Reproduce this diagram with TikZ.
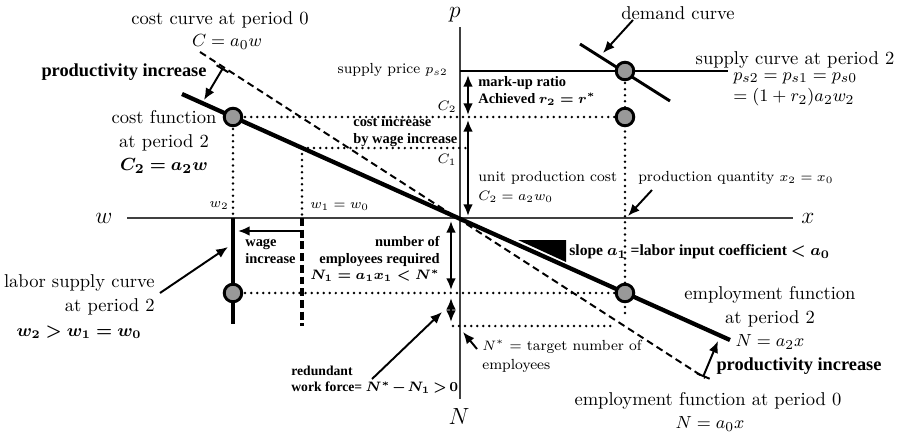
\documentclass[tikz,border=0pt]{standalone}
\usepackage{amsmath}
\usepackage{bm}
\usepackage{fontspec}
\newfontfamily\boldserif{Liberation Serif}
\usepackage{tikz}
\usetikzlibrary{arrows.meta,positioning}

\begin{document}
\begin{tikzpicture}[
  x=0.018cm, y=-0.018cm,
  >={Latex[length=6pt,width=5pt]},
  every node/.style={inner sep=1pt},
  big/.style={font=\fontsize{9.5}{12}\selectfont},
  sm/.style={font=\fontsize{7.5}{9.8}\selectfont},
  bbig/.style={font=\boldserif\bfseries\fontsize{9.4}{11}\selectfont},
  bmid/.style={font=\boldserif\bfseries\fontsize{8}{8.8}\selectfont},
  bsm/.style={font=\boldserif\bfseries\fontsize{7.4}{8.6}\selectfont},
  axlbl/.style={font=\fontsize{12}{14}\selectfont},
  axis/.style={line width=0.75pt, black!75},
  costline/.style={line width=2.2pt},
  oldline/.style={line width=1pt, dash pattern=on 3.6pt off 2.2pt},
  dotline/.style={line width=1.4pt, line cap=round, dash pattern=on 0pt off 3.1pt},
  arr/.style={->, line width=1pt},
  dbl/.style={<->, line width=1pt},
  eqpt/.style={circle, draw, line width=1.5pt, fill=black!40, minimum size=9pt, inner sep=0pt}
]
\useasboundingbox (0,0) rectangle (899,434);

% axes
\coordinate (wend) at (127,218);
\coordinate (xend) at (793,218);
\coordinate (ptop) at (460,27);
\coordinate (Nbot) at (460,399);
\draw[axis] (wend) -- (xend);
\draw[axis] (ptop) -- (Nbot);
\node[axlbl] (wlbl) at (104,218) {$w$};
\node[axlbl] (xlbl) at (808,218) {$x$};
\node[axlbl] (plbl) at (455,15) {$p$};
\node[axlbl] (Nlbl) at (459,416) {$N$};

% centres of the equilibrium points
\coordinate (psup) at (625,71);
\coordinate (pc2r) at (625,117);
\coordinate (pc2l) at (233,117);
\coordinate (pemp) at (625,293);
\coordinate (plab) at (233,293);

% guide points
\coordinate (w2pt) at (233,218);
\coordinate (w1pt) at (302,148);
\coordinate (w1ax) at (302,218);
\coordinate (C1ax) at (466,148);
\coordinate (empdn) at (625,318);
\coordinate (nsl) at (453,326);
\coordinate (nsr) at (615,326);

% dotted guides
\draw[dotline] (pc2l) -- (pc2r);
\draw[dotline] (w1pt) -- (C1ax);
\draw[dotline] (pc2l) -- (w2pt);
\draw[dotline] (w1pt) -- (w1ax);
\draw[dotline] (psup) -- (pemp) -- (empdn);
\draw[dotline] (plab) -- (pemp);
\draw[dotline] (nsl) -- (nsr);

% curves
\coordinate (cs) at (182,94);
\coordinate (ce) at (730,340);
\coordinate (ds) at (200,52);
\coordinate (de) at (705,378);
\coordinate (spl) at (460,71);
\coordinate (spr) at (728,71);
\coordinate (dms) at (580,44);
\coordinate (dme) at (670,101);
\coordinate (lsb) at (233,324);
\coordinate (w1b) at (302,326);
\draw[oldline] (ds) -- (de);
\draw[costline] (cs) -- (ce);
\draw[line width=1.5pt] (spl) -- (spr);
\draw[line width=1.5pt] (dms) -- (dme);
\draw[line width=2pt] (w2pt) -- (lsb);
\draw[line width=1.6pt, dash pattern=on 4pt off 2pt] (w1ax) -- (w1b);

% equilibrium points
\node[eqpt] (sup) at (psup) {};
\node[eqpt] (c2r) at (pc2r) {};
\node[eqpt] (c2l) at (pc2l) {};
\node[eqpt] (emp) at (pemp) {};
\node[eqpt] (lab) at (plab) {};

% slope mark
\fill (518,240) -- (566,240) -- (566,262) -- cycle;

% arrows
\coordinate (mu1) at (468,75);
\coordinate (mu2) at (468,115);
\coordinate (uc1) at (468,120);
\coordinate (uc2) at (468,216);
\coordinate (ne1) at (451,221);
\coordinate (ne2) at (451,290);
\coordinate (rd1) at (451,298);
\coordinate (rd2) at (451,322);
\coordinate (wg1) at (302,231);
\coordinate (wg2) at (238,231);
\draw[dbl] (mu1) -- (mu2);
\draw[dbl] (uc1) -- (uc2);
\draw[dbl] (ne1) -- (ne2);
\draw[dbl] (rd1) -- (rd2);
\draw[arr] (wg1) -- (wg2);
\coordinate (pt1) at (223,68);
\coordinate (pt2) at (204,100);
\coordinate (pb1) at (703,377);
\coordinate (pb2) at (718,341);
\draw[{Bar[width=7pt]}->, line width=1pt] (pt1) -- (pt2);
\draw[{Bar[width=7pt]}->, line width=1pt] (pb1) -- (pb2);
\coordinate (la1) at (160,293);
\coordinate (la2) at (228,247);
\coordinate (ra1) at (372,379);
\coordinate (ra2) at (442,312);
\coordinate (na1) at (477,349);
\coordinate (na2) at (463,332);
\coordinate (qa1) at (652,190);
\coordinate (qa2) at (628,216);
\coordinate (da1) at (633,20);
\coordinate (da2) at (603,53);
\draw[arr] (la1) -- (la2);
\draw[arr] (ra1) -- (ra2);
\draw[arr] (na1) -- (na2);
\draw[arr] (qa1) -- (qa2);
\draw[arr] (da1) -- (da2);

% labels
\node[big] (cc0) at (220,20) {cost curve at period 0};
\node[big] (cc0eq) at (227,42) {$C = a_0 w$};
\node[bbig] (pi1) at (124,72) {productivity increase};
\node[big, align=center] (cf2) at (164,142) {cost function\\at period 2\\$\bm{C_2 = a_2 w}$};
\node[sm, anchor=east] (spp) at (450,70) {supply price $p_{s2}$};
\node[sm] (C2lbl) at (447,107) {$C_2$};
\node[sm] (C1lbl) at (447,160) {$C_1$};
\node[bsm, anchor=west, align=left] (mu) at (476,91) {mark-up ratio\\Achieved $\bm{r_2 = r^*}$};
\node[bsm, anchor=west, align=left] (ci) at (351,131.5) {cost increase\\by wage increase};
\node[sm, anchor=west, align=left] (upc) at (476,187) {unit production cost\\$C_2 = a_2 w_0$};
\node[sm, anchor=west] (pq) at (636,178) {production quantity $x_2 = x_0$};
\node[sm, anchor=east] (w2lbl) at (231,206) {$w_2$};
\node[sm, anchor=west] (w1lbl) at (308,207) {$w_1 = w_0$};
\node[bsm, anchor=west, align=left] (wi) at (243,251) {wage\\increase};
\node[bsm, anchor=east, align=right] (ner) at (442,259) {number of\\employees required\\$\bm{N_1 = a_1 x_1 < N^*}$};
\node[bmid, anchor=west] (slp) at (567,252) {slope $\bm{a_1}$ =labor input coefficient $\bm{<a_0}$};
\node[bsm, font=\boldserif\bfseries\fontsize{7}{8.6}\selectfont, anchor=west, align=left] (rwf) at (289,380)
  {redundant\\work force= $\medmuskip=2mu\thickmuskip=3mu\bm{N^* - N_1 > 0}$};
\node[sm, anchor=west, align=left] (nst) at (480,356) {$N^*$ = target number of\\employees};
\node[big, align=center] (ef2) at (770,318) {employment function\\at period 2\\$N = a_2 x$};
\node[bbig] (pi2) at (799,366) {productivity increase};
\node[big] (ef0) at (708,401) {employment function at period 0};
\node[big] (ef0eq) at (710,424) {$N = a_0 x$};
\node[big, anchor=east, align=right] (lsc) at (157,295) {labor supply curve\\at period 2};
\node[font=\fontsize{9}{11}\selectfont] (lsceq) at (79,332) {$\bm{w_2 > w_1 = w_0}$};
\node[big] (dem) at (678,13) {demand curve};
\node[big] (sc2) at (795,60) {supply curve at period 2};
\node[big, anchor=west] (sceq1) at (731,78) {$p_{s2} = p_{s1} = p_{s0}$};
\node[big, anchor=west] (sceq2) at (731,97) {$= (1 + r_2) a_2 w_2$};
\end{tikzpicture}
\end{document}
